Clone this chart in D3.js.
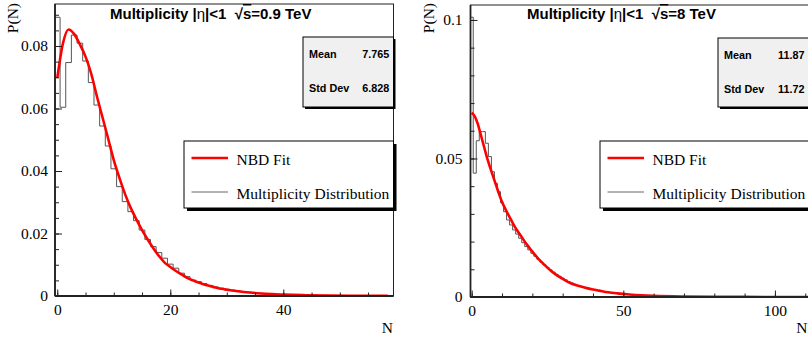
<html>
<head>
<meta charset="utf-8">
<title>Multiplicity distributions</title>
<script src="https://d3js.org/d3.v7.min.js"></script>
<style>
  body { margin: 0; background: #fff; }
  .tick text { font-family: "Liberation Serif", "Times New Roman", serif; font-size: 15.5px; fill: #000; }
  .ttl { font-family: "Liberation Sans", Arial, sans-serif; font-weight: bold; font-size: 15px; white-space: pre; }
  .stat { font-family: "Liberation Sans", Arial, sans-serif; font-weight: bold; font-size: 10.8px; }
  .lab { font-family: "Liberation Serif", "Times New Roman", serif; font-size: 15.5px; }
</style>
</head>
<body>
<svg id="chart" width="808" height="337"></svg>
<script>
// ---- data ----
// 0.9 TeV : histogram, one value per unit bin starting at N=0
var histLow = [0.0892, 0.0604, 0.0747, 0.0835, 0.0809, 0.0752, 0.0683, 0.0611, 0.0544, 0.0480,
  0.0407, 0.0350, 0.0302, 0.0270, 0.0241, 0.0211, 0.0181, 0.0158, 0.0139, 0.0121,
  0.0102, 0.0089, 0.0073, 0.0062, 0.0051, 0.0046, 0.0040, 0.0034, 0.0029, 0.0025,
  0.0022, 0.0019, 0.0016, 0.0014, 0.0012, 0.0010, 0.00088, 0.00075, 0.00064, 0.00055,
  0.00047, 0.00040, 0.00034, 0.00029, 0.00025, 0.00021, 0.00018, 0.00015, 0.00013, 0.00011,
  0.00009, 0.00008, 0.00006, 0.00005, 0.00004, 0.00004, 0.00003, 0.00002, 0.00002];
// 0.9 TeV : NBD fit
var fitLowN = [0, 1, 2, 3, 4, 5, 6, 7, 8, 9, 10, 11, 12, 13, 14, 15, 16, 17, 18, 19, 20,
  21, 22, 23, 24, 25, 26, 27, 28, 29, 30, 32, 34, 36, 38, 40, 44, 48, 52, 56, 58.5];
var fitLowP = [0.0697, 0.0808, 0.0853, 0.0838, 0.0805, 0.0766, 0.0712, 0.0640, 0.0572, 0.0504, 0.0435,
  0.0378, 0.0326, 0.0282, 0.0245, 0.0211, 0.0181, 0.0153, 0.0128, 0.0107, 0.0093,
  0.0080, 0.0069, 0.0058, 0.0050, 0.0043, 0.0037, 0.0032, 0.0027, 0.0023, 0.0020,
  0.0015, 0.0011, 0.0008, 0.0006, 0.00045, 0.00025, 0.00014, 0.00008, 0.00005, 0.00003];

// 8 TeV : histogram
var histHigh = [0.101, 0.0447, 0.0564, 0.0597, 0.0597, 0.0555, 0.0507, 0.0452, 0.0410, 0.0380,
  0.0340, 0.0308, 0.0278, 0.0260, 0.0242, 0.0227, 0.0212, 0.0196, 0.0182, 0.0170,
  0.0158, 0.0147, 0.0136, 0.0126, 0.0116, 0.0107, 0.0098, 0.0090, 0.0082, 0.0075,
  0.0068, 0.0062, 0.0056, 0.0051, 0.0046, 0.0042, 0.0038, 0.0035, 0.0032, 0.0029,
  0.0027, 0.0025, 0.0023, 0.0021, 0.0019, 0.0017, 0.0016, 0.0014, 0.0013, 0.0012,
  0.0011, 0.0010, 0.0009, 0.0008, 0.00075, 0.0007, 0.00063, 0.00057, 0.00052, 0.00047,
  0.00042, 0.00038, 0.00034, 0.00031, 0.00028, 0.00025];
// 8 TeV : NBD fit
var fitHighN = [0, 1, 2, 3, 4, 5, 6, 7, 8, 9, 10, 11, 12, 13, 14, 15, 16, 17, 18, 19, 20,
  22, 24, 26, 28, 30, 32, 34, 36, 38, 40, 42, 45, 48, 52, 56, 60, 70, 80, 90, 100, 112];
var fitHighP = [0.0665, 0.0652, 0.0625, 0.0585, 0.0545, 0.0505, 0.0470, 0.0437, 0.0405, 0.0372, 0.0343,
  0.0320, 0.0298, 0.0278, 0.0258, 0.0240, 0.0224, 0.0208, 0.0192, 0.0178, 0.0164,
  0.0138, 0.0116, 0.0096, 0.0079, 0.0065, 0.0053, 0.0044, 0.0038, 0.0032, 0.0027,
  0.0023, 0.0017, 0.0013, 0.0009, 0.0006, 0.0004, 0.00015, 0.00006, 0.00003, 0.00001, 0.0];

// ticks
var lowXTicks = [0, 20, 40];
var lowYTicks = [0, 0.02, 0.04, 0.06, 0.08];
var lowYLabels = ["0", "0.02", "0.04", "0.06", "0.08"];
var highXTicks = [0, 50, 100];
var highYTicks = [0, 0.05, 0.1];
var highYLabels = ["0", "0.05", "0.1"];

// stats
var statsLow = ["7.765", "6.828"];
var statsHigh = ["11.87", "11.72"];

var svg = d3.select("#chart");

function drawPanel(p) {
  var g = svg.append("g");
  var x = d3.scaleLinear().domain(p.xDomain).range([p.left, p.right]);
  var y = d3.scaleLinear().domain(p.yDomain).range([p.bottom, p.top]);

  var clipId = "clip" + p.id;
  svg.append("clipPath").attr("id", clipId)
    .append("rect").attr("x", p.left).attr("y", p.top)
    .attr("width", p.right - p.left).attr("height", p.bottom - p.top);

  // frame
  g.append("rect")
    .attr("x", p.left).attr("y", p.top)
    .attr("width", p.right - p.left).attr("height", p.bottom - p.top)
    .attr("fill", "none").attr("stroke", "#222").attr("stroke-width", 1);

  // histogram as steps
  var pts = [[p.xDomain[0], 0]];
  p.hist.forEach(function(v, i) { pts.push([i - 0.5, v]); });
  pts.push([p.hist.length - 0.5, p.hist[p.hist.length - 1]]);
  var histLine = d3.line()
    .x(function(d) { return x(Math.max(d[0], p.xDomain[0])); })
    .y(function(d) { return y(d[1]); })
    .curve(d3.curveStepAfter);
  g.append("path")
    .datum(pts)
    .attr("clip-path", "url(#" + clipId + ")")
    .attr("fill", "none").attr("stroke", "#555").attr("stroke-width", 1)
    .attr("d", histLine);

  // fit curve
  var fit = p.fitN.map(function(n, i) { return [n, p.fitP[i]]; });
  g.append("path")
    .datum(fit)
    .attr("clip-path", "url(#" + clipId + ")")
    .attr("fill", "none").attr("stroke", "#ff0000").attr("stroke-width", 2.6)
    .attr("d", d3.line()
      .x(function(d) { return x(d[0]); })
      .y(function(d) { return y(d[1]); })
      .curve(d3.curveMonotoneX));

  // axes, ticks inward
  var xMinor = d3.range(0, p.xDomain[1], p.xMinorStep);
  var yMinor = d3.range(0, p.yDomain[1], p.yMinorStep);
  g.append("g").attr("transform", "translate(0," + p.bottom + ")")
    .call(d3.axisBottom(x).tickValues(xMinor).tickSize(-3.5).tickFormat(""));
  g.append("g").attr("transform", "translate(0," + p.bottom + ")")
    .call(d3.axisBottom(x).tickValues(p.xTicks).tickSize(-6.5).tickPadding(8).tickFormat(d3.format("d")));
  g.append("g").attr("transform", "translate(" + p.left + ",0)")
    .call(d3.axisLeft(y).tickValues(yMinor).tickSize(-4).tickFormat(""));
  g.append("g").attr("transform", "translate(" + p.left + ",0)")
    .call(d3.axisLeft(y).tickValues(p.yTicks).tickSize(-7).tickPadding(p.yPad)
      .tickFormat(function(d, i) { return p.yLabels[i]; }));
  g.selectAll(".domain").remove();
  g.selectAll(".tick line").attr("stroke", "#222");

  g.append("line").attr("x1", p.left).attr("x2", p.right)
    .attr("y1", p.bottom).attr("y2", p.bottom).attr("stroke", "#222").attr("stroke-width", 1.8);
  g.append("line").attr("x1", p.left).attr("x2", p.left)
    .attr("y1", p.top).attr("y2", p.bottom).attr("stroke", "#222").attr("stroke-width", 1.8);

  // axis titles
  g.append("text").attr("class", "lab")
    .attr("transform", "translate(" + p.yTitleX + ",3) rotate(-90)")
    .attr("text-anchor", "end").text("P(N)");
  g.append("text").attr("class", "lab")
    .attr("x", p.nX).attr("y", 332.5).attr("text-anchor", "end").text("N");

  // title
  var t = g.append("text").attr("class", "ttl").attr("x", p.titleX).attr("y", 19);
  t.append("tspan").text("Multiplicity |");
  t.append("tspan").attr("font-weight", "normal").text("η");
  t.append("tspan").text("|<1  \u221A");
  t.append("tspan").attr("text-decoration", "overline").text("s");
  t.append("tspan").text("=" + p.energy + " TeV");

  // stats box
  var sb = p.stats;
  g.append("rect").attr("x", sb.x + 2).attr("y", sb.y + 2).attr("width", sb.w).attr("height", sb.h).attr("fill", "#000");
  g.append("rect").attr("x", sb.x).attr("y", sb.y).attr("width", sb.w).attr("height", sb.h)
    .attr("fill", "#f0f0f0").attr("stroke", "#000").attr("stroke-width", 1);
  ["Mean", "Std Dev"].forEach(function(name, i) {
    var yy = sb.y + 21 + i * 34;
    g.append("text").attr("class", "stat").attr("x", sb.x + 6).attr("y", yy).text(name);
    g.append("text").attr("class", "stat").attr("x", sb.vx).attr("y", yy)
      .attr("text-anchor", "end").text(p.statVals[i]);
  });

  // legend
  var lg = p.legend;
  g.append("rect").attr("x", lg.x + 3).attr("y", lg.y + 3).attr("width", lg.w).attr("height", lg.h).attr("fill", "#000");
  g.append("rect").attr("x", lg.x).attr("y", lg.y).attr("width", lg.w).attr("height", lg.h)
    .attr("fill", "#fff").attr("stroke", "#000").attr("stroke-width", 1);
  g.append("line").attr("x1", lg.x + 7.5).attr("x2", lg.x + 44)
    .attr("y1", lg.y + 17).attr("y2", lg.y + 17).attr("stroke", "#ff0000").attr("stroke-width", 2.6);
  g.append("line").attr("x1", lg.x + 7.5).attr("x2", lg.x + 44)
    .attr("y1", lg.y + 51).attr("y2", lg.y + 51).attr("stroke", "#666").attr("stroke-width", 1);
  g.append("text").attr("class", "lab").attr("x", lg.x + 52.5).attr("y", lg.y + 23.5).text("NBD Fit");
  g.append("text").attr("class", "lab").attr("x", lg.x + 52.5).attr("y", lg.y + 58).text("Multiplicity Distribution");
}

drawPanel({
  id: "low", left: 55, right: 393.5, top: 4, bottom: 296,
  xDomain: [-0.4, 59.5], yDomain: [0, 0.09344],
  hist: histLow, fitN: fitLowN, fitP: fitLowP,
  xTicks: lowXTicks, yTicks: lowYTicks, yLabels: lowYLabels,
  xMinorStep: 5, yMinorStep: 0.005, yPad: 7,
  yTitleX: 17.5, titleX: 110, energy: "0.9", nX: 393,
  stats: { x: 303, y: 37, w: 90.5, h: 70, vx: 389.3 }, statVals: statsLow,
  legend: { x: 184, y: 141, w: 209.5, h: 67 }
});

drawPanel({
  id: "high", left: 470.5, right: 811, top: 5, bottom: 297,
  xDomain: [-0.4, 111.9], yDomain: [0, 0.1054],
  hist: histHigh, fitN: fitHighN, fitP: fitHighP,
  xTicks: highXTicks, yTicks: highYTicks, yLabels: highYLabels,
  xMinorStep: 10, yMinorStep: 0.01, yPad: 8,
  yTitleX: 434, titleX: 527, energy: "8", nX: 807.5,
  stats: { x: 718, y: 38, w: 93, h: 69, vx: 804.5 }, statVals: statsHigh,
  legend: { x: 600, y: 141, w: 211, h: 67 }
});
</script>
</body>
</html>
